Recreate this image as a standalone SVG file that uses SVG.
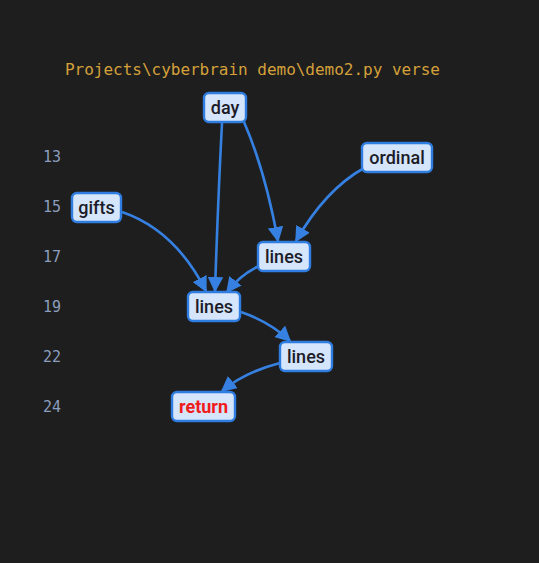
<svg xmlns="http://www.w3.org/2000/svg" width="539" height="563" viewBox="0 0 539 563">
<style>
.title{font-family:"DejaVu Sans Mono","Liberation Mono",monospace;font-size:16px;fill:#d4a03a}
.ln{font-family:"DejaVu Sans Mono","Liberation Mono",monospace;font-size:15px;fill:#8c9dbd}
.box{fill:#d5e5fb;stroke:#2f7de0;stroke-width:2.4}
.lbl{font-family:Roboto,"Liberation Sans",Arial,sans-serif;font-size:18px;font-weight:500;fill:#1c1c28;text-anchor:middle}
.ret{fill:#f01c1c;font-weight:bold}
.edge{fill:none;stroke:#3580e0;stroke-width:2.6;marker-end:url(#ah)}
</style>
<defs>
<marker id="ah" viewBox="0 0 10 10" refX="9" refY="5" markerWidth="6" markerHeight="6" orient="auto" markerUnits="strokeWidth">
<path d="M0,0 L10,5 L0,10 z" fill="#3580e0"/>
</marker>
</defs>
<rect x="0" y="0" width="539" height="563" fill="#1e1e1e"/>
<text class="title" x="65" y="75" textLength="375">Projects\cyberbrain demo\demo2.py verse</text>
<g id="line-numbers">
<text class="ln" x="43" y="162">13</text>
<text class="ln" x="43" y="212">15</text>
<text class="ln" x="43" y="262">17</text>
<text class="ln" x="43" y="312">19</text>
<text class="ln" x="43" y="362">22</text>
<text class="ln" x="43" y="412">24</text>
</g>
<g id="connectors">
<path class="edge" d="M222,123 Q218,200 215,291"/>
<path class="edge" d="M244,122 Q265,170 278,241"/>
<path class="edge" d="M364,168 Q325,190 296,241"/>
<path class="edge" d="M122,212 Q175,230 206,291"/>
<path class="edge" d="M259,266 Q240,275 227,292"/>
<path class="edge" d="M241,312 Q270,322 290,341"/>
<path class="edge" d="M280,363 Q245,372 222,391"/>
</g>
<g id="node-day"><rect class="box" x="204" y="93" width="42" height="29" rx="5"/><text class="lbl" x="225" y="113.5">day</text></g>
<g id="node-ordinal"><rect class="box" x="362" y="143" width="70" height="29" rx="5"/><text class="lbl" x="397" y="163.5">ordinal</text></g>
<g id="node-gifts"><rect class="box" x="72" y="193" width="49" height="29" rx="5"/><text class="lbl" x="96.5" y="213.5">gifts</text></g>
<g id="node-lines17"><rect class="box" x="258" y="242" width="52" height="29" rx="5"/><text class="lbl" x="284" y="263">lines</text></g>
<g id="node-lines19"><rect class="box" x="188" y="292" width="52" height="29" rx="5"/><text class="lbl" x="214" y="313">lines</text></g>
<g id="node-lines22"><rect class="box" x="280" y="342" width="52" height="29" rx="5"/><text class="lbl" x="306" y="363">lines</text></g>
<g id="node-return"><rect class="box" x="172" y="392" width="63" height="29" rx="5"/><text class="lbl ret" x="203.5" y="413">return</text></g>
</svg>
